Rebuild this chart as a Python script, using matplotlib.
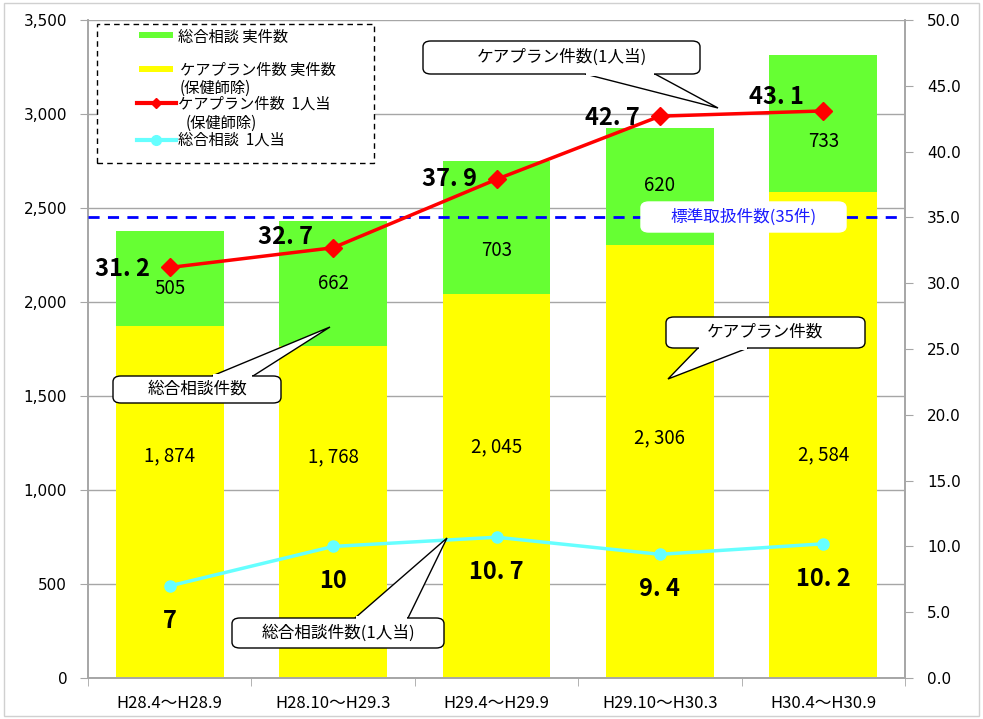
import matplotlib.pyplot as plt
from matplotlib.lines import Line2D
from matplotlib.patches import FancyBboxPatch, Polygon, Rectangle

plt.rcParams['font.family'] = ['Noto Sans CJK JP', 'DejaVu Sans']
NARROW = ['Liberation Sans Narrow', 'Noto Sans CJK JP', 'DejaVu Sans']

periods = ["H28.4～H28.9", "H28.10～H29.3", "H29.4～H29.9", "H29.10～H30.3", "H30.4～H30.9"]
careplan_count = [1874, 1768, 2045, 2306, 2584]
consult_count = [505, 662, 703, 620, 733]
careplan_per_person = [31.2, 32.7, 37.9, 42.7, 43.1]
consult_per_person = [7, 10, 10.7, 9.4, 10.2]
standard_cases = 35
left_ticks = [0, 500, 1000, 1500, 2000, 2500, 3000, 3500]
right_ticks = [0, 5, 10, 15, 20, 25, 30, 35, 40, 45, 50]

# where Excel put the bar labels (left-axis units) and the line label nudges (points)
careplan_label_y = [1181, 1176, 1229, 1277, 1186]
consult_label_y = [2074, 2101, 2277, 2622, 2856]
careplan_label_dy = [-1, 8, 0, -1, 10]

GRID = "#a6a6a6"
fig = plt.figure(figsize=(9.83, 7.19), dpi=100)
ax = fig.add_axes([0.0895, 0.057, 0.8312, 0.915])
ax2 = ax.twinx()

x = list(range(len(periods)))
ax.bar(x, careplan_count, width=0.66, color="#ffff00", zorder=2)
ax.bar(x, consult_count, width=0.66, bottom=careplan_count, color="#66ff33", zorder=2)

for i in x:
    ax.text(i, careplan_label_y[i], f"{careplan_count[i]:,}".replace(",", ", "),
            ha="center", va="center", fontsize=13.5, family=NARROW, zorder=5)
    ax.text(i, consult_label_y[i], str(consult_count[i]),
            ha="center", va="center", fontsize=13.5, family=NARROW, zorder=5)

ax.set_ylim(0, 3500)
ax.set_xlim(-0.5, 4.5)
ax.set_yticks(left_ticks)
ax.set_yticklabels([f"{v:,}" for v in left_ticks], fontsize=11, family="DejaVu Sans")
ax.yaxis.grid(True, color=GRID, linewidth=1, zorder=0)
ax.set_axisbelow(True)
ax.set_xticks(x)
ax.set_xticklabels(periods, fontsize=12, family=NARROW)
ax.tick_params(axis="x", length=0, pad=12)
ax.set_xticks([-0.5, 0.5, 1.5, 2.5, 3.5, 4.5], minor=True)
ax.tick_params(axis="x", which="minor", length=6, color=GRID)
ax.tick_params(axis="y", length=6, color=GRID, pad=9)

ax2.set_ylim(0, 50)
ax2.set_yticks(right_ticks)
ax2.set_yticklabels([f"{v:.1f}" for v in right_ticks], fontsize=11, family="DejaVu Sans")
ax2.tick_params(axis="y", length=6, color=GRID, pad=10)

for a in (ax, ax2):
    a.spines["top"].set_visible(False)
    for s in ("left", "right", "bottom"):
        a.spines[s].set_color(GRID)
        a.spines[s].set_linewidth(1.2)

ax2.axhline(standard_cases, color="#0000ff", linestyle=(0, (4, 3)), linewidth=2, zorder=3)

ax2.plot(x, careplan_per_person, color="#ff0000", linewidth=2.5, marker="D",
         markersize=9, zorder=4)
ax2.plot(x, consult_per_person, color="#66ffff", linewidth=2.5, marker="o",
         markersize=8, zorder=4)

for i in x:
    ax2.annotate(f"{careplan_per_person[i]:g}".replace(".", ". "), (i, careplan_per_person[i]),
                 xytext=(-34, careplan_label_dy[i]), textcoords="offset points", ha="center",
                 va="center", fontsize=17, fontweight="bold", family=NARROW, zorder=6)
    ax2.annotate(f"{consult_per_person[i]:g}".replace(".", ". "), (i, consult_per_person[i]),
                 xytext=(0, -25), textcoords="offset points", ha="center",
                 va="center", fontsize=17, fontweight="bold", family=NARROW, zorder=6)


# callouts and legend in pixel coordinates of the figure (top-left origin)
W, H = 983, 719


def px(xp, yp):
    return (xp / W, 1 - yp / H)


def callout(text, box, base=None, tip=None, color="black", edge=True):
    x0, y0, x1, y1 = box
    if edge:
        poly = Polygon([px(*base[0]), px(*tip), px(*base[1])], closed=True,
                       transform=fig.transFigure, facecolor="white",
                       edgecolor="black", linewidth=1, zorder=10)
        fig.add_artist(poly)
    bx, by = px(x0, y1)
    box_patch = FancyBboxPatch((bx, by), (x1 - x0) / W, (y1 - y0) / H,
                               boxstyle="round,pad=0,rounding_size=0.008",
                               transform=fig.transFigure, facecolor="white",
                               edgecolor="black" if edge else "white",
                               linewidth=1, zorder=11)
    fig.add_artist(box_patch)
    if edge:
        cover = Polygon([px(base[0][0] + 1, base[0][1] - 2), px(base[1][0] - 1, base[1][1] - 2),
                         px(base[1][0] - 1, base[1][1] + 2), px(base[0][0] + 1, base[0][1] + 2)],
                        closed=True, transform=fig.transFigure, facecolor="white",
                        edgecolor="none", zorder=12)
        fig.add_artist(cover)
    cx, cy = px((x0 + x1) / 2, (y0 + y1) / 2)
    fig.text(cx, cy, text, ha="center", va="center", fontsize=12, color=color, zorder=13)


callout("ケアプラン件数(1人当)", (423, 41, 700, 74), [(585, 74), (655, 74)], (718, 108))
callout("総合相談件数", (113, 376, 281, 403), [(212, 376), (253, 376)], (330, 327))
callout("ケアプラン件数", (666, 317, 865, 348), [(698, 348), (748, 348)], (668, 379))
callout("総合相談件数(1人当)", (232, 618, 444, 648), [(355, 618), (408, 618)], (447, 538))
callout("標準取扱件数(35件)", (641, 202, 846, 232), color="#1a1aff", edge=False)

# legend, drawn by hand to follow the Excel layout
lx0, ly0 = px(97, 163)
fig.add_artist(Rectangle((lx0, ly0), (374 - 97) / W, (163 - 24) / H, transform=fig.transFigure,
                         facecolor="white", edgecolor="black", linestyle=(0, (4, 3)),
                         linewidth=1, zorder=20))
for yy, col in ((35, "#66ff33"), (69, "#ffff00")):
    rx, ry = px(139, yy + 3)
    fig.add_artist(Rectangle((rx, ry), 34 / W, 6 / H, transform=fig.transFigure,
                             facecolor=col, edgecolor="none", zorder=21))
for yy, col, mk, ms in ((103, "#ff0000", "D", 5), (140, "#66ffff", "o", 7)):
    (ax_, ay_), (bx_, by_) = px(137, yy), px(176, yy)
    fig.add_artist(Line2D([ax_, bx_], [ay_, by_], transform=fig.transFigure, color=col,
                          linewidth=3, zorder=21))
    mx, my = px(156, yy)
    fig.add_artist(Line2D([mx], [my], transform=fig.transFigure, color=col, marker=mk,
                          markersize=ms, zorder=22))
legend_texts = [
    ("総合相談 実件数", 178, 37),
    ("ケアプラン件数 実件数", 180, 70),
    ("(保健師除)", 180, 88),
    ("ケアプラン件数  1人当", 178, 104),
    ("(保健師除)", 186, 123),
    ("総合相談  1人当", 178, 140),
]
for t, tx, ty in legend_texts:
    fig.text(*px(tx, ty), t, ha="left", va="center", fontsize=11, zorder=23)

fig.add_artist(Rectangle((0.004, 0.004), 0.992, 0.992, transform=fig.transFigure,
                         fill=False, edgecolor="#d0d0d0", linewidth=1))

fig.savefig("out.png", dpi=100)
plt.close(fig)
